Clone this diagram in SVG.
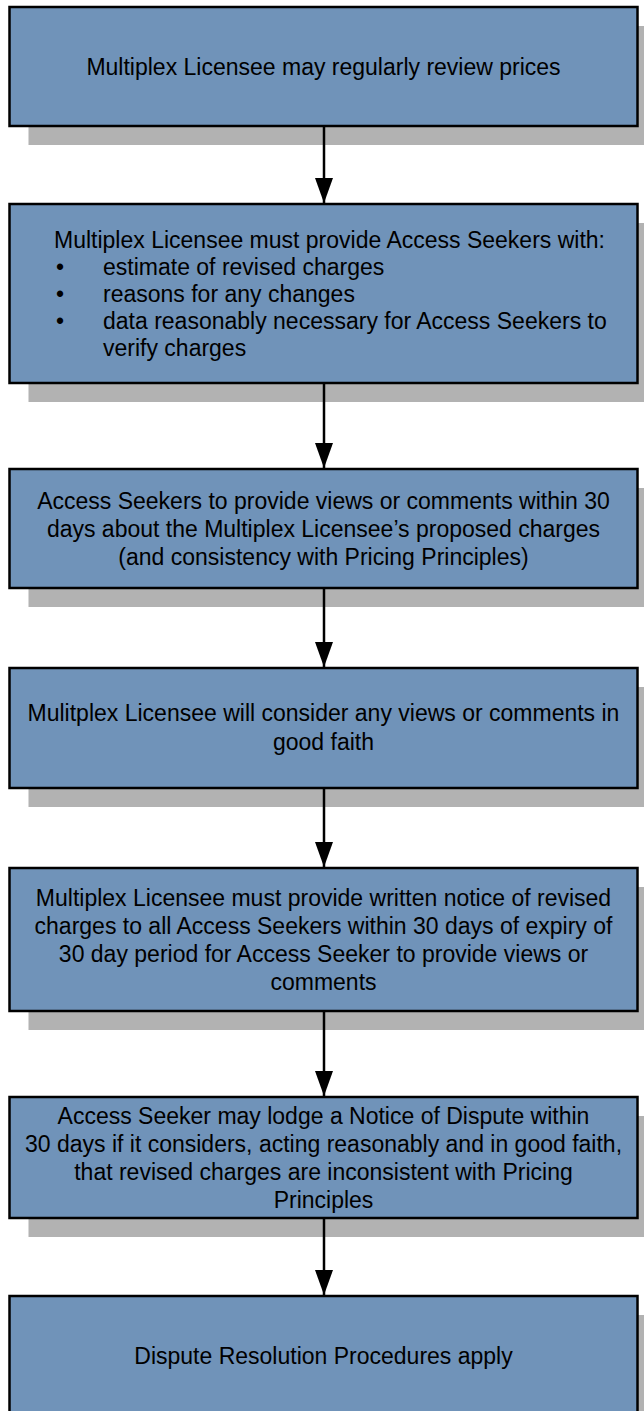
<svg xmlns="http://www.w3.org/2000/svg" width="644" height="1411" viewBox="0 0 644 1411">
<style>
.sh{fill:#B2B2B2;}
.bx{fill:#7093B9;stroke:#000;stroke-width:2.5;}
.t{font-family:"Liberation Sans",Arial,sans-serif;font-size:23px;fill:#000;text-anchor:middle;}
.l{font-family:"Liberation Sans",Arial,sans-serif;font-size:23px;fill:#000;}
.c{stroke:#000;stroke-width:2.5;fill:none;marker-end:url(#ah);}
</style>
<defs>
<marker id="ah" markerUnits="userSpaceOnUse" markerWidth="26" markerHeight="18" refX="25" refY="9" orient="auto" viewBox="0 0 26 18">
<path d="M0,0 L25,9 L0,18 Z" fill="#000"/>
</marker>
</defs>
<rect width="644" height="1411" fill="#fff"/>
<g id="n1">
<rect class="sh" x="28.5" y="26" width="628" height="119"/>
<rect class="bx" x="9.5" y="7" width="628" height="119"/>
<text class="t" x="323.5" y="74.5">Multiplex Licensee may regularly review prices</text>
</g>
<g id="n2">
<rect class="sh" x="28.5" y="223" width="628" height="179"/>
<rect class="bx" x="9.5" y="204" width="628" height="179"/>
<text class="l" x="54" y="248">Multiplex Licensee must provide Access Seekers with:</text>
<text class="l" x="56" y="275">•</text><text class="l" x="103" y="275">estimate of revised charges</text>
<text class="l" x="56" y="302">•</text><text class="l" x="103" y="302">reasons for any changes</text>
<text class="l" x="56" y="329">•</text><text class="l" x="103" y="329">data reasonably necessary for Access Seekers to</text>
<text class="l" x="103" y="356">verify charges</text>
</g>
<g id="n3">
<rect class="sh" x="28.5" y="488" width="628" height="119"/>
<rect class="bx" x="9.5" y="469" width="628" height="119"/>
<text class="t" x="323.5" y="508.5">Access Seekers to provide views or comments within 30</text>
<text class="t" x="323.5" y="536.5">days about the Multiplex Licensee’s proposed charges</text>
<text class="t" x="323.5" y="564.5">(and consistency with Pricing Principles)</text>
</g>
<g id="n4">
<rect class="sh" x="28.5" y="687" width="628" height="120"/>
<rect class="bx" x="9.5" y="668" width="628" height="120"/>
<text class="t" x="323.5" y="721">Mulitplex Licensee will consider any views or comments in</text>
<text class="t" x="323.5" y="750">good faith</text>
</g>
<g id="n5">
<rect class="sh" x="28.5" y="887" width="628" height="143"/>
<rect class="bx" x="9.5" y="868" width="628" height="143"/>
<text class="t" x="323.5" y="905.5">Multiplex Licensee must provide written notice of revised</text>
<text class="t" x="323.5" y="933.5">charges to all Access Seekers within 30 days of expiry of</text>
<text class="t" x="323.5" y="961.5">30 day period for Access Seeker to provide views or</text>
<text class="t" x="323.5" y="989.5">comments</text>
</g>
<g id="n6">
<rect class="sh" x="28.5" y="1116" width="628" height="121"/>
<rect class="bx" x="9.5" y="1097" width="628" height="121"/>
<text class="t" x="323.5" y="1123.5">Access Seeker may lodge a Notice of Dispute within</text>
<text class="t" x="323.5" y="1151.5">30 days if it considers, acting reasonably and in good faith,</text>
<text class="t" x="323.5" y="1179.5">that revised charges are inconsistent with Pricing</text>
<text class="t" x="323.5" y="1207.5">Principles</text>
</g>
<g id="n7">
<rect class="sh" x="28.5" y="1315" width="628" height="119"/>
<rect class="bx" x="9.5" y="1296" width="628" height="119"/>
<text class="t" x="323.5" y="1363.5">Dispute Resolution Procedures apply</text>
</g>
<g id="connectors">
<line class="c" x1="324" y1="127" x2="324" y2="203"/>
<line class="c" x1="324" y1="384" x2="324" y2="468"/>
<line class="c" x1="324" y1="589" x2="324" y2="667"/>
<line class="c" x1="324" y1="789" x2="324" y2="867"/>
<line class="c" x1="324" y1="1012" x2="324" y2="1096"/>
<line class="c" x1="324" y1="1219" x2="324" y2="1295"/>
</g>
</svg>
